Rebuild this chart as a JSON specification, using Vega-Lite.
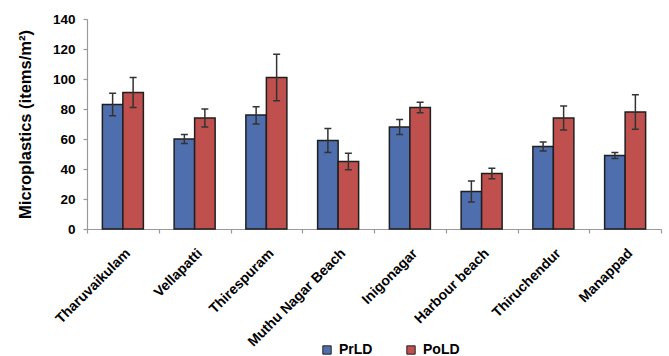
{
  "$schema": "https://vega.github.io/schema/vega-lite/v6.json",
  "width": 574,
  "height": 210,
  "autosize": {"type": "none"},
  "padding": {"left": 87, "top": 19, "right": 8, "bottom": 127},
  "config": {
    "view": {"stroke": null},
    "font": "Liberation Sans",
    "axisY": {
      "title": "Microplastics (items/m²)",
      "titleFont": "Liberation Sans",
      "titleFontWeight": "bold",
      "titleFontSize": 16.5,
      "titleColor": "#000",
      "titlePadding": 19,
      "labelOverlap": false,
      "grid": false,
      "labelFont": "Liberation Sans",
      "labelFontWeight": "bold",
      "labelFontSize": 13.5,
      "labelColor": "#000",
      "labelPadding": 8,
      "tickSize": 4,
      "tickColor": "#999",
      "domainColor": "#999",
      "domainWidth": 1.2,
      "tickWidth": 1.2
    }
  },
  "data": {
    "values": [
      {"site": "Tharuvaikulam", "period": "PrLD", "value": 83, "lo": 75.5, "hi": 90.5},
      {"site": "Tharuvaikulam", "period": "PoLD", "value": 91, "lo": 81, "hi": 101},
      {"site": "Vellapatti", "period": "PrLD", "value": 60, "lo": 57, "hi": 63},
      {"site": "Vellapatti", "period": "PoLD", "value": 74, "lo": 68, "hi": 80},
      {"site": "Thirespuram", "period": "PrLD", "value": 76, "lo": 70, "hi": 81.5},
      {"site": "Thirespuram", "period": "PoLD", "value": 101, "lo": 85.5, "hi": 116.5},
      {"site": "Muthu Nagar Beach", "period": "PrLD", "value": 59, "lo": 51, "hi": 67},
      {"site": "Muthu Nagar Beach", "period": "PoLD", "value": 45, "lo": 39.5, "hi": 50.5},
      {"site": "Inigonagar", "period": "PrLD", "value": 68, "lo": 63, "hi": 73},
      {"site": "Inigonagar", "period": "PoLD", "value": 81, "lo": 77.5, "hi": 84.5},
      {"site": "Harbour beach", "period": "PrLD", "value": 25, "lo": 18, "hi": 32},
      {"site": "Harbour beach", "period": "PoLD", "value": 37, "lo": 33.5, "hi": 40.5},
      {"site": "Thiruchendur", "period": "PrLD", "value": 55, "lo": 52, "hi": 58},
      {"site": "Thiruchendur", "period": "PoLD", "value": 74, "lo": 66, "hi": 82},
      {"site": "Manappad", "period": "PrLD", "value": 49, "lo": 47, "hi": 51},
      {"site": "Manappad", "period": "PoLD", "value": 78, "lo": 66.5, "hi": 89.5}
    ]
  },
  "encoding": {
    "x": {
      "field": "site",
      "type": "nominal",
      "sort": null,
      "scale": {"paddingInner": 0, "paddingOuter": 0},
      "axis": {
        "title": null,
        "labelAngle": -45,
        "labelFont": "Liberation Sans",
        "labelFontWeight": "bold",
        "labelFontSize": 14,
        "labelColor": "#000",
        "labelPadding": 13,
        "labelOverlap": false,
        "tickBand": "extent",
        "tickSize": 4,
        "tickColor": "#999",
        "domainColor": "#999",
        "domainWidth": 1.2,
        "tickWidth": 1.2
      }
    },
    "xOffset": {
      "field": "period",
      "sort": ["PrLD", "PoLD"],
      "scale": {"paddingInner": 0, "paddingOuter": 0.75}
    }
  },
  "layer": [
    {
      "mark": {"type": "bar", "stroke": "#1f1f1f", "strokeWidth": 1.5},
      "encoding": {
        "y": {
          "field": "value",
          "type": "quantitative",
          "title": "Microplastics (items/m²)",
          "scale": {"domain": [0, 140], "nice": false},
          "axis": {"values": [0, 20, 40, 60, 80, 100, 120, 140], "labelOverlap": false}
        },
        "color": {
          "field": "period",
          "type": "nominal",
          "sort": ["PrLD", "PoLD"],
          "scale": {"domain": ["PrLD", "PoLD"], "range": ["#4F6EAD", "#C0504D"]},
          "legend": {
            "title": null,
            "orient": "none",
            "direction": "horizontal",
            "legendX": 233,
            "legendY": 324,
            "symbolType": "square",
            "symbolSize": 70,
            "symbolStrokeColor": "#222",
            "symbolStrokeWidth": 1,
            "symbolOpacity": 1,
            "labelFont": "Liberation Sans",
            "labelFontWeight": "bold",
            "labelFontSize": 14,
            "labelColor": "#000",
            "labelOffset": 5,
            "columnPadding": 31
          }
        }
      }
    },
    {
      "mark": {"type": "rule", "color": "#333", "strokeWidth": 1.5},
      "encoding": {
        "y": {"field": "lo", "type": "quantitative", "title": "Microplastics (items/m²)",
              "axis": {"values": [0, 20, 40, 60, 80, 100, 120, 140], "labelOverlap": false}},
        "y2": {"field": "hi"}
      }
    },
    {
      "mark": {"type": "tick", "color": "#333", "thickness": 1.5, "size": 7, "opacity": 1},
      "encoding": {
        "y": {"field": "lo", "type": "quantitative", "title": "Microplastics (items/m²)",
              "axis": {"values": [0, 20, 40, 60, 80, 100, 120, 140], "labelOverlap": false}}
      }
    },
    {
      "mark": {"type": "tick", "color": "#333", "thickness": 1.5, "size": 7, "opacity": 1},
      "encoding": {
        "y": {"field": "hi", "type": "quantitative", "title": "Microplastics (items/m²)",
              "axis": {"values": [0, 20, 40, 60, 80, 100, 120, 140], "labelOverlap": false}}
      }
    }
  ]
}
